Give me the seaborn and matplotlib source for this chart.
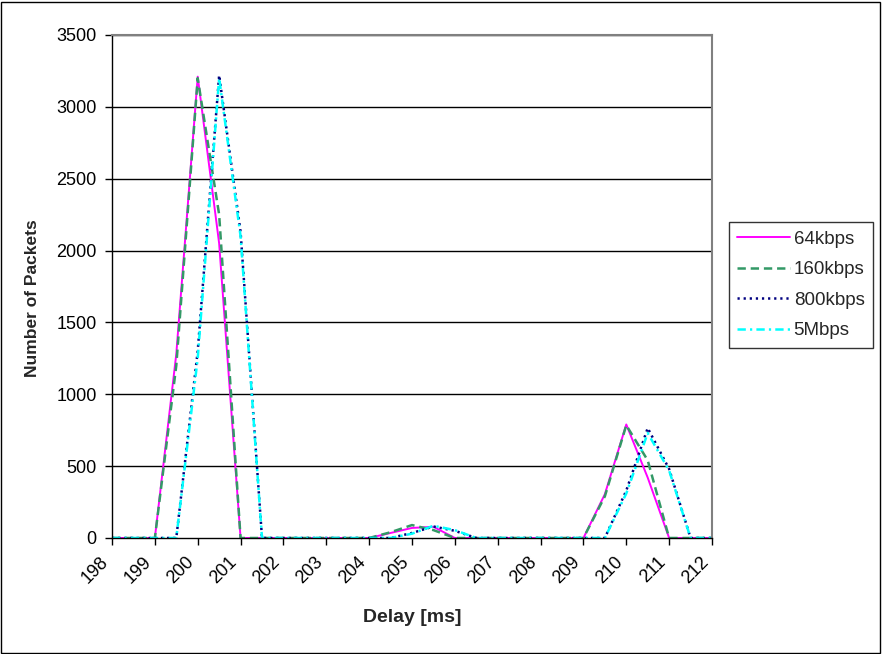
import matplotlib
matplotlib.use("Agg")
import matplotlib.pyplot as plt
from matplotlib.patches import Rectangle
from matplotlib.lines import Line2D
import seaborn as sns
import pandas as pd

delay = [198, 198.5, 199, 199.5, 200, 200.5, 201, 201.5, 202, 202.5, 203, 203.5,
         204, 204.5, 205, 205.5, 206, 206.5, 207, 207.5, 208, 208.5, 209, 209.5,
         210, 210.5, 211, 211.5, 212]

kbps64 = [0, 0, 0, 1280, 3210, 2050, 0, 0, 0, 0, 0, 0,
          0, 35, 70, 78, 0, 0, 0, 0, 0, 0, 0, 305,
          790, 420, 0, 0, 0]
kbps160 = [0, 0, 0, 1200, 3200, 2250, 0, 0, 0, 0, 0, 0,
           0, 40, 90, 55, 0, 0, 0, 0, 0, 0, 0, 290,
           785, 540, 0, 0, 0]
kbps800 = [0, 0, 0, 0, 1300, 3220, 2130, 0, 0, 0, 0, 0,
           0, 0, 35, 80, 50, 0, 0, 0, 0, 0, 0, 0,
           330, 765, 480, 0, 0]
mbps5 = [0, 0, 0, 0, 1250, 3200, 2100, 0, 0, 0, 0, 0,
         0, 0, 30, 85, 55, 0, 0, 0, 0, 0, 0, 0,
         310, 730, 470, 0, 0]

series_names = ["64kbps", "160kbps", "800kbps", "5Mbps"]
x_ticks = [198, 199, 200, 201, 202, 203, 204, 205, 206, 207, 208, 209, 210, 211, 212]
y_ticks = [0, 500, 1000, 1500, 2000, 2500, 3000, 3500]

df = pd.DataFrame({"Delay": delay, "64kbps": kbps64, "160kbps": kbps160,
                   "800kbps": kbps800, "5Mbps": mbps5})

sns.set_theme(style="white")
plt.rcParams["font.family"] = ["Liberation Sans", "DejaVu Sans"]
plt.rcParams["lines.scale_dashes"] = False

W, H = 882, 654
fig = plt.figure(figsize=(W / 100, H / 100), dpi=100)
fig.patch.set_facecolor("white")
ax = fig.add_axes([112 / W, 1 - 538 / H, 600 / W, 503 / H])

styles = {
    "64kbps": dict(color="#FF00FF", linestyle="-", linewidth=1.4),
    "160kbps": dict(color="#339966", linestyle=(0, (6, 3.5)), linewidth=1.8),
    "800kbps": dict(color="#000080", linestyle=(0, (1.6, 2.8)), linewidth=1.8),
    "5Mbps": dict(color="#00FFFF", linestyle=(0, (6, 3, 1.6, 3)), linewidth=1.8),
}

for name in series_names:
    sns.lineplot(data=df, x="Delay", y=name, ax=ax, legend=False, **styles[name])

ax.set_xlim(198, 212)
ax.set_ylim(0, 3500)
ax.set_yticks(y_ticks)
ax.set_yticklabels([str(v) for v in y_ticks], fontsize=13, color="black")
ax.set_xticks(x_ticks)
ax.set_xticklabels([str(v) for v in x_ticks], fontsize=13, color="black",
                   rotation=45, ha="right", va="top")
ax.tick_params(axis="both", direction="out", length=5, width=1, color="black",
               bottom=True, left=True)
ax.tick_params(axis="x", pad=6)
ax.tick_params(axis="y", pad=6)
ax.set_xlabel("")
ax.set_ylabel("")
ax.grid(False)
for y in y_ticks[1:]:
    ax.axhline(y, color="black", linewidth=1.0, zorder=0.5)

for side in ["left", "bottom"]:
    ax.spines[side].set_color("black")
    ax.spines[side].set_linewidth(1.0)
for side in ["top", "right"]:
    ax.spines[side].set_color("#808080")
    ax.spines[side].set_linewidth(1.5)
    ax.spines[side].set_visible(True)

fig.text(412 / W, 1 - 617 / H, "Delay [ms]", ha="center", va="center",
         fontsize=14, fontweight="bold")
fig.text(33 / W, 1 - 298 / H, "Number of Packets", ha="center", va="center",
         rotation=90, fontsize=12.5, fontweight="bold")

handles = [Line2D([0], [0], **styles[n]) for n in series_names]
leg = fig.legend(handles, series_names, loc="upper left",
                 bbox_to_anchor=(729 / W, 1 - 222 / H), fontsize=13.5,
                 frameon=True, fancybox=False, edgecolor="black",
                 handlelength=2.8, handletextpad=0.2, labelspacing=0.72,
                 borderpad=0.45, borderaxespad=0)
leg.get_frame().set_linewidth(1.0)

fig.patches.append(Rectangle((1 / W, 1 / H), 1 - 3 / W, 1 - 3 / H,
                             transform=fig.transFigure, fill=False,
                             edgecolor="black", linewidth=1.0))

fig.savefig("out.png", dpi=100)
